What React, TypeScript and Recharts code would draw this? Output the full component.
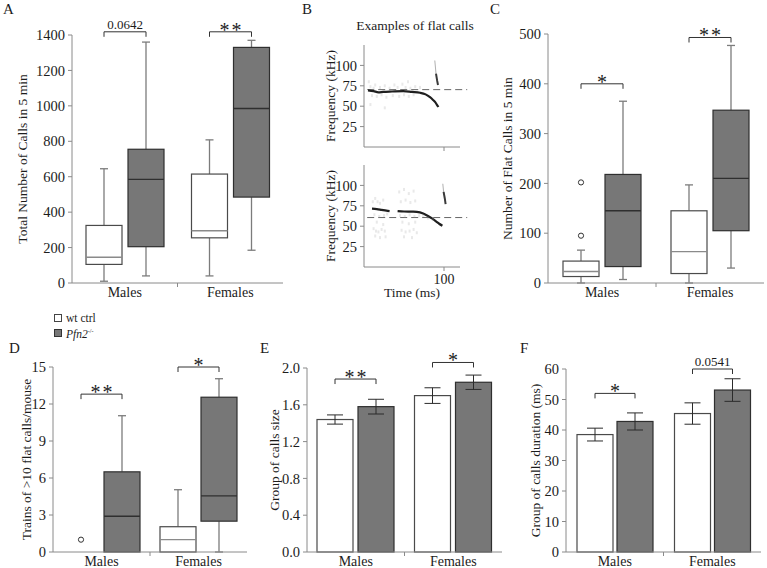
import React from "react";
import {
  Bar,
  ComposedChart,
  ErrorBar,
  Line,
  ReferenceLine,
  Scatter,
  XAxis,
  YAxis,
} from "recharts";

const SERIF = '"Liberation Serif", "Times New Roman", serif';
const INK = "#1c1c1c";
const AXIS = "#8a8a8a";
const WT_STROKE = "#4a4a4a";
const WT_MEDIAN = "#8a8a8a";
const KO_FILL = "#777777";
const KO_STROKE = "#2f2f2f";
const WHISKER = "#7c7c7c";

const groups = ["Males", "Females"];

// box summaries are [min, q1, median, q3, max]
const totalWt = [
  [10, 105, 145, 325, 645],
  [40, 255, 295, 615, 808],
];
const totalKo = [
  [40, 205, 585, 755, 1360],
  [185, 485, 985, 1330, 1370],
];
const totalSig = ["0.0642", "**"];
const totalSigAt = [1418, 1418];

const flatWt = [
  [0, 13, 23, 44, 66],
  [0, 19, 63, 145, 197],
];
const flatKo = [
  [7, 33, 145, 218, 365],
  [30, 105, 210, 347, 477],
];
const flatWtOutliers = [[95, 202], []];
const flatSig = ["*", "**"];
const flatSigAt = [400, 493];

const trainsWt = [
  [0, 0, 0, 0, 0],
  [0, 0, 1, 2.05, 5.05],
];
const trainsKo = [
  [0, 0, 2.9, 6.5, 11.05],
  [0, 2.5, 4.55, 12.55, 14.05],
];
const trainsWtOutliers = [[1], []];
const trainsSig = ["**", "*"];
const trainsSigAt = [12.8, 15];

const sizeWt = [1.44, 1.7];
const sizeWtErr = [0.05, 0.085];
const sizeKo = [1.58, 1.845];
const sizeKoErr = [0.08, 0.078];
const sizeSig = ["**", "*"];
const sizeSigAt = [1.88, 2.06];

const durWt = [38.5, 45.4];
const durWtErr = [2.1, 3.5];
const durKo = [42.8, 53.1];
const durKoErr = [2.8, 3.7];
const durSig = ["*", "0.0541"];
const durSigAt = [52, 60];

// spectrogram traces (t in ms, f in kHz)
const topContour = [
  { t: 5, f: 69.5 }, { t: 12, f: 68.5 }, { t: 18, f: 67 }, { t: 24, f: 67.5 },
  { t: 35, f: 68 }, { t: 49, f: 68.5 }, { t: 60, f: 67.5 }, { t: 70, f: 66.5 },
  { t: 77, f: 64.5 }, { t: 82.5, f: 61 }, { t: 86, f: 58 }, { t: 89, f: 55 },
  { t: 91, f: 52 }, { t: 93, f: 49 },
];
const topJumpFaint = [{ t: 88.5, f: 106 }, { t: 90, f: 90 }];
const topJump = [{ t: 90, f: 90 }, { t: 91.5, f: 81 }, { t: 92.5, f: 76 }];
const topDashed = 70.3;
const topNoise = [
  { t: 6, f: 80 }, { t: 8, f: 74 }, { t: 10, f: 63 }, { t: 12, f: 72 }, { t: 14, f: 76 },
  { t: 16, f: 62 }, { t: 20, f: 73 }, { t: 22, f: 64 }, { t: 26, f: 75 }, { t: 28, f: 61 },
  { t: 32, f: 72 }, { t: 36, f: 63 }, { t: 38, f: 76 }, { t: 42, f: 73 }, { t: 44, f: 62 },
  { t: 48, f: 77 }, { t: 50, f: 64 }, { t: 52, f: 73 }, { t: 55, f: 80 }, { t: 56, f: 62 },
  { t: 58, f: 72 }, { t: 62, f: 64 }, { t: 64, f: 74 }, { t: 8, f: 52 }, { t: 26, f: 48 },
  { t: 70, f: 73 },
];

const bottomContourA = [
  { t: 10, f: 71.5 }, { t: 16, f: 71 }, { t: 22, f: 70 }, { t: 28, f: 69 }, { t: 32, f: 68.5 },
];
const bottomContourB = [
  { t: 42, f: 68.5 }, { t: 50, f: 68 }, { t: 60, f: 67.8 }, { t: 66, f: 67.5 },
  { t: 74, f: 65.5 }, { t: 80, f: 62.5 }, { t: 85, f: 59.5 }, { t: 90, f: 56 },
  { t: 94, f: 53 }, { t: 98, f: 50.5 },
];
const bottomJumpFaint = [{ t: 98.5, f: 102 }, { t: 99.5, f: 92 }];
const bottomJump = [{ t: 99.5, f: 92 }, { t: 101, f: 84 }, { t: 102, f: 77 }];
const bottomDashed = 60.6;
const bottomNoise = [
  { t: 11, f: 80 }, { t: 14, f: 84 }, { t: 17, f: 80 }, { t: 20, f: 78 }, { t: 24, f: 82 },
  { t: 13, f: 64 }, { t: 19, f: 62 }, { t: 25, f: 63 }, { t: 29, f: 65 }, { t: 12, f: 47 },
  { t: 15, f: 44 }, { t: 18, f: 43 }, { t: 22, f: 46 }, { t: 26, f: 44 }, { t: 14, f: 38 },
  { t: 20, f: 36 }, { t: 27, f: 37 }, { t: 16, f: 55 }, { t: 24, f: 52 }, { t: 44, f: 92 },
  { t: 50, f: 95 }, { t: 56, f: 90 }, { t: 62, f: 93 }, { t: 46, f: 80 }, { t: 52, f: 82 },
  { t: 58, f: 79 }, { t: 64, f: 81 }, { t: 45, f: 63 }, { t: 51, f: 62 }, { t: 57, f: 64 },
  { t: 63, f: 62 }, { t: 69, f: 63 }, { t: 74, f: 63 }, { t: 47, f: 45 }, { t: 52, f: 43 },
  { t: 57, f: 44 }, { t: 62, f: 46 }, { t: 66, f: 42 }, { t: 50, f: 37 }, { t: 60, f: 36 },
  { t: 48, f: 55 }, { t: 56, f: 53 }, { t: 64, f: 55 }, { t: 80, f: 60 }, { t: 86, f: 58 },
];

const freqTicks = [25, 50, 75, 100];
const timeTicks = [100];

type Row = Record<string, any>;

function boxRows(wt: number[][], ko: number[][], wtOut: number[][], sig: string[], sigAt: number[]): Row[] {
  return groups.map((g, i) => ({
    group: g,
    wt: wt[i],
    ko: ko[i],
    wtOut: wtOut[i],
    koOut: [],
    sig: sig[i],
    sigAt: sigAt[i],
  }));
}

function barRows(wt: number[], wtErr: number[], ko: number[], koErr: number[], sig: string[], sigAt: number[]): Row[] {
  return groups.map((g, i) => ({
    group: g,
    wt: wt[i],
    wtErr: wtErr[i],
    ko: ko[i],
    koErr: koErr[i],
    sig: sig[i],
    sigAt: sigAt[i],
  }));
}

const extent = (s: number[], outs: number[]) => [
  Math.min(s[0], ...outs),
  Math.max(s[4], ...outs),
];

function Bracket({ x1, x2, y, label }: { x1: number; x2: number; y: number; label: string }) {
  const stars = /^\*+$/.test(label);
  return (
    <g>
      <path d={`M${x1},${y + 5}V${y}H${x2}V${y + 5}`} stroke="#333" strokeWidth={1} fill="none" />
      <text
        x={(x1 + x2) / 2 + (stars ? 1 : 0)}
        y={stars ? y + 5 : y - 3}
        textAnchor="middle"
        fontFamily={SERIF}
        fontSize={stars ? 20 : 13}
        letterSpacing={stars ? 2 : 0}
        fill={INK}
      >
        {label}
      </text>
    </g>
  );
}

// whisker box drawn inside the bar's [low, high] range
const boxShape = (side: "wt" | "ko", gap: number) => (p: any) => {
  const { x, y, width, height, payload } = p;
  const s: number[] = payload[side];
  const outs: number[] = payload[side + "Out"] || [];
  const [lo, hi] = extent(s, outs);
  const top = Math.min(y, y + height);
  const bot = Math.max(y, y + height);
  const k = hi > lo ? (bot - top) / (hi - lo) : 0;
  const py = (v: number) => bot - (v - lo) * k;
  const cx = x + width / 2;
  const [mn, q1, md, q3, mx] = s;
  const ko = side === "ko";
  const flat = mx === mn;
  return (
    <g>
      {!flat && (
        <g>
          <line x1={cx} x2={cx} y1={py(mx)} y2={py(q3)} stroke={WHISKER} strokeWidth={1.3} />
          <line x1={cx} x2={cx} y1={py(q1)} y2={py(mn)} stroke={WHISKER} strokeWidth={1.3} />
          {mx > q3 && <line x1={cx - 4} x2={cx + 4} y1={py(mx)} y2={py(mx)} stroke={WHISKER} strokeWidth={1.3} />}
          {q1 > mn && <line x1={cx - 4} x2={cx + 4} y1={py(mn)} y2={py(mn)} stroke={WHISKER} strokeWidth={1.3} />}
          <rect
            x={x}
            y={py(q3)}
            width={width}
            height={py(q1) - py(q3)}
            fill={ko ? KO_FILL : "#fff"}
            stroke={ko ? KO_STROKE : WT_STROKE}
            strokeWidth={1.2}
          />
          <line
            x1={x}
            x2={x + width}
            y1={py(md)}
            y2={py(md)}
            stroke={ko ? KO_STROKE : WT_MEDIAN}
            strokeWidth={1.4}
          />
        </g>
      )}
      {outs.map((v, i) => (
        <circle key={i} cx={cx} cy={py(v)} r={2.6} fill="#fff" stroke="#333" strokeWidth={1} />
      ))}
      {ko && payload.sig && (
        <Bracket x1={cx - width - gap} x2={cx} y={py(payload.sigAt)} label={payload.sig} />
      )}
    </g>
  );
};

const barShape = (side: "wt" | "ko", gap: number) => (p: any) => {
  const { x, y, width, height, payload } = p;
  const v = payload[side];
  const top = Math.min(y, y + height);
  const bot = Math.max(y, y + height);
  const py = (u: number) => bot - (u * (bot - top)) / v;
  const ko = side === "ko";
  const cx = x + width / 2;
  return (
    <g>
      <rect
        x={x}
        y={top}
        width={width}
        height={bot - top}
        fill={ko ? KO_FILL : "#fff"}
        stroke={ko ? KO_STROKE : WT_STROKE}
        strokeWidth={1.2}
      />
      {ko && payload.sig && (
        <Bracket x1={cx - width - gap} x2={cx} y={py(payload.sigAt)} label={payload.sig} />
      )}
    </g>
  );
};

// category label at the band centre, plus a small divider tick between the two groups
const CategoryTick = (p: any) => {
  const { x, y, payload, index, width, visibleTicksCount } = p;
  let half = payload && payload.offset ? payload.offset : 0;
  if (!half && width && visibleTicksCount) half = width / visibleTicksCount / 2;
  return (
    <g>
      <text x={x} y={y + 14} textAnchor="middle" fontFamily={SERIF} fontSize={14} fill={INK}>
        {payload.value}
      </text>
      {index === 0 && half > 0 && (
        <line x1={x + half} x2={x + half} y1={y} y2={y + 4} stroke={AXIS} />
      )}
    </g>
  );
};

const yTitle = (text: string, cxLocal: number) => ({
  content: (p: any) => {
    const vb = p.viewBox || { x: 0, y: 0, height: 0 };
    const cx = cxLocal;
    const cy = vb.y + vb.height / 2;
    return (
      <text
        x={cx}
        y={cy}
        transform={`rotate(-90 ${cx} ${cy})`}
        textAnchor="middle"
        dominantBaseline="central"
        fontFamily={SERIF}
        fontSize={13.5}
        fill={INK}
      >
        {text}
      </text>
    );
  },
});

const tickStyle = { fill: INK, fontSize: 14.5, fontFamily: SERIF };

type PanelProps = {
  left: number;
  top: number;
  width: number;
  height: number;
  plotTop: number;
  plotBottom: number;
  yWidth: number;
  rightPad: number;
  domain: number[];
  ticks: number[];
  title: string;
  titleX: number;
  rows: Row[];
  gap: number;
  kind: "box" | "bar";
  fmt?: (v: number) => string;
};

function Panel(props: PanelProps) {
  const { left, top, width, height, plotTop, plotBottom, yWidth, rightPad, domain, ticks, title, titleX, rows, gap, kind, fmt } = props;
  return (
    <div style={{ position: "absolute", left, top }}>
      <ComposedChart
        width={width}
        height={height}
        data={rows}
        margin={{ top: plotTop, right: rightPad, bottom: 0, left: 0 }}
        barGap={gap}
      >
        <XAxis
          dataKey="group"
          height={height - plotBottom}
          axisLine={{ stroke: AXIS }}
          tickLine={false}
          tickSize={0}
          tickMargin={0}
          tick={<CategoryTick />}
          interval={0}
        />
        <YAxis
          type="number"
          domain={domain}
          ticks={ticks}
          interval={0}
          width={yWidth}
          axisLine={{ stroke: AXIS }}
          tickLine={{ stroke: AXIS }}
          tickSize={4}
          tickMargin={3}
          tick={tickStyle}
          tickFormatter={fmt}
          label={yTitle(title, titleX)}
        />
        {kind === "box" ? (
          <Bar
            dataKey={(d: Row) => extent(d.wt, d.wtOut)}
            barSize={36}
            shape={boxShape("wt", gap)}
            isAnimationActive={false}
          />
        ) : (
          <Bar dataKey="wt" barSize={36} shape={barShape("wt", gap)} isAnimationActive={false}>
            <ErrorBar dataKey="wtErr" width={8} stroke="#2b2b2b" strokeWidth={1} />
          </Bar>
        )}
        {kind === "box" ? (
          <Bar
            dataKey={(d: Row) => extent(d.ko, d.koOut)}
            barSize={36}
            shape={boxShape("ko", gap)}
            isAnimationActive={false}
          />
        ) : (
          <Bar dataKey="ko" barSize={36} shape={barShape("ko", gap)} isAnimationActive={false}>
            <ErrorBar dataKey="koErr" width={8} stroke="#2b2b2b" strokeWidth={1} />
          </Bar>
        )}
      </ComposedChart>
    </div>
  );
}

const Speck = (p: any) => (
  <rect x={p.cx - 1} y={p.cy - 1.5} width={2} height={3} fill="#9a9a9a" opacity={0.22} />
);

type SpecProps = {
  top: number;
  height: number;
  segments: { t: number; f: number }[][];
  jumpFaint: { t: number; f: number }[];
  jump: { t: number; f: number }[];
  noise: { t: number; f: number }[];
  dashed: number;
  showTime: boolean;
};

function TimeTick(p: any) {
  const { x, y, payload, show } = p;
  if (!show) return <g />;
  return (
    <text x={x} y={y + 13} textAnchor="middle" fontFamily={SERIF} fontSize={14} fill={INK}>
      {payload.value}
    </text>
  );
}

function Spectrogram({ top, height, segments, jumpFaint, jump, noise, dashed, showTime }: SpecProps) {
  return (
    <div style={{ position: "absolute", left: 300, top }}>
      <ComposedChart width={170} height={height} margin={{ top: 15, right: 10, bottom: 0, left: 0 }}>
        <XAxis
          type="number"
          dataKey="t"
          domain={[0, 120]}
          ticks={timeTicks}
          allowDataOverflow
          height={height - 117}
          axisLine={{ stroke: AXIS }}
          tickLine={{ stroke: AXIS }}
          tickSize={4}
          tickMargin={0}
          tick={<TimeTick show={showTime} />}
          label={
            showTime
              ? {
                  content: (p: any) => {
                    const vb = p.viewBox || { x: 0, y: 0, width: 0, height: 0 };
                    return (
                      <text
                        x={vb.x + vb.width / 2}
                        y={vb.y + 30}
                        textAnchor="middle"
                        fontFamily={SERIF}
                        fontSize={13.5}
                        fill={INK}
                      >
                        Time (ms)
                      </text>
                    );
                  },
                }
              : undefined
          }
        />
        <YAxis
          type="number"
          dataKey="f"
          domain={[0, 125]}
          ticks={freqTicks}
          interval={0}
          allowDataOverflow
          width={64}
          axisLine={{ stroke: AXIS }}
          tickLine={{ stroke: AXIS }}
          tickSize={4}
          tickMargin={3}
          tick={tickStyle}
          label={yTitle("Frequency (kHz)", 30)}
        />
        <Scatter data={noise} dataKey="f" shape={<Speck />} isAnimationActive={false} />
        <ReferenceLine
          segment={[
            { x: 4, y: dashed },
            { x: 129, y: dashed },
          ]}
          ifOverflow="visible"
          stroke="#666"
          strokeWidth={1}
          strokeDasharray="7 4"
        />
        {segments.map((seg, i) => (
          <Line
            key={i}
            data={seg}
            dataKey="f"
            type="monotone"
            stroke="#1f1f1f"
            strokeWidth={2.2}
            dot={false}
            isAnimationActive={false}
          />
        ))}
        <Line
          data={jumpFaint}
          dataKey="f"
          type="linear"
          stroke="#b0b0b0"
          strokeWidth={1}
          dot={false}
          isAnimationActive={false}
        />
        <Line
          data={jump}
          dataKey="f"
          type="linear"
          stroke="#3a3a3a"
          strokeWidth={2}
          dot={false}
          isAnimationActive={false}
        />
      </ComposedChart>
    </div>
  );
}

const letter = (ch: string, left: number, top: number) => (
  <div
    style={{
      position: "absolute",
      left,
      top,
      fontFamily: SERIF,
      fontSize: 15,
      lineHeight: "15px",
      color: INK,
    }}
  >
    {ch}
  </div>
);

export default function App() {
  return (
    <div
      style={{
        position: "absolute",
        left: 0,
        top: 0,
        width: 767,
        height: 568,
        background: "#fff",
        overflow: "hidden",
      }}
    >
      {letter("A", 3, 2)}
      {letter("B", 302, 2)}
      {letter("C", 490, 2)}
      {letter("D", 9, 341)}
      {letter("E", 260, 341)}
      {letter("F", 520, 341)}

      <Panel
        left={0}
        top={0}
        width={290}
        height={300}
        plotTop={35}
        plotBottom={283}
        yWidth={72}
        rightPad={7}
        domain={[0, 1400]}
        ticks={[0, 200, 400, 600, 800, 1000, 1200, 1400]}
        title="Total Number of Calls in 5 min"
        titleX={22}
        rows={boxRows(totalWt, totalKo, [[], []], totalSig, totalSigAt)}
        gap={6}
        kind="box"
      />

      <div
        style={{
          position: "absolute",
          left: 340,
          top: 18,
          width: 150,
          textAlign: "center",
          fontFamily: SERIF,
          fontSize: 13.5,
          color: INK,
        }}
      >
        Examples of flat calls
      </div>
      <Spectrogram
        top={30}
        height={125}
        segments={[topContour]}
        jumpFaint={topJumpFaint}
        jump={topJump}
        noise={topNoise}
        dashed={topDashed}
        showTime={false}
      />
      <Spectrogram
        top={150}
        height={150}
        segments={[bottomContourA, bottomContourB]}
        jumpFaint={bottomJumpFaint}
        jump={bottomJump}
        noise={bottomNoise}
        dashed={bottomDashed}
        showTime={true}
      />

      <Panel
        left={480}
        top={0}
        width={287}
        height={300}
        plotTop={34}
        plotBottom={283}
        yWidth={68}
        rightPad={3}
        domain={[0, 500]}
        ticks={[0, 100, 200, 300, 400, 500]}
        title="Number of Flat Calls in 5 min"
        titleX={27}
        rows={boxRows(flatWt, flatKo, flatWtOutliers, flatSig, flatSigAt)}
        gap={6}
        kind="box"
      />

      <div
        style={{
          position: "absolute",
          left: 54,
          top: 312,
          fontFamily: SERIF,
          fontSize: 11.5,
          lineHeight: "12.5px",
          color: INK,
        }}
      >
        <div>
          <span
            style={{
              display: "inline-block",
              width: 6,
              height: 6,
              border: "1px solid #444",
              background: "#fff",
              marginRight: 4,
            }}
          />
          wt ctrl
        </div>
        <div>
          <span
            style={{
              display: "inline-block",
              width: 6,
              height: 6,
              border: "1px solid #333",
              background: KO_FILL,
              marginRight: 4,
            }}
          />
          <i>Pfn2</i>
          <sup style={{ fontSize: 6 }}>-/-</sup>
        </div>
      </div>

      <Panel
        left={0}
        top={300}
        width={260}
        height={268}
        plotTop={67}
        plotBottom={252}
        yWidth={53}
        rightPad={13}
        domain={[0, 15]}
        ticks={[0, 3, 6, 9, 12, 15]}
        title="Trains of >10 flat calls/mouse"
        titleX={26}
        rows={boxRows(trainsWt, trainsKo, trainsWtOutliers, trainsSig, trainsSigAt)}
        gap={5}
        kind="box"
      />

      <Panel
        left={255}
        top={300}
        width={260}
        height={268}
        plotTop={68}
        plotBottom={252}
        yWidth={52}
        rightPad={13}
        domain={[0, 2]}
        ticks={[0, 0.4, 0.8, 1.2, 1.6, 2.0]}
        fmt={(v: number) => v.toFixed(1)}
        title="Group of calls size"
        titleX={19}
        rows={barRows(sizeWt, sizeWtErr, sizeKo, sizeKoErr, sizeSig, sizeSigAt)}
        gap={5}
        kind="bar"
      />

      <Panel
        left={510}
        top={300}
        width={257}
        height={268}
        plotTop={69}
        plotBottom={252}
        yWidth={56}
        rightPad={6}
        domain={[0, 60]}
        ticks={[0, 10, 20, 30, 40, 50, 60]}
        title="Group of calls duration (ms)"
        titleX={25}
        rows={barRows(durWt, durWtErr, durKo, durKoErr, durSig, durSigAt)}
        gap={4}
        kind="bar"
      />
    </div>
  );
}
